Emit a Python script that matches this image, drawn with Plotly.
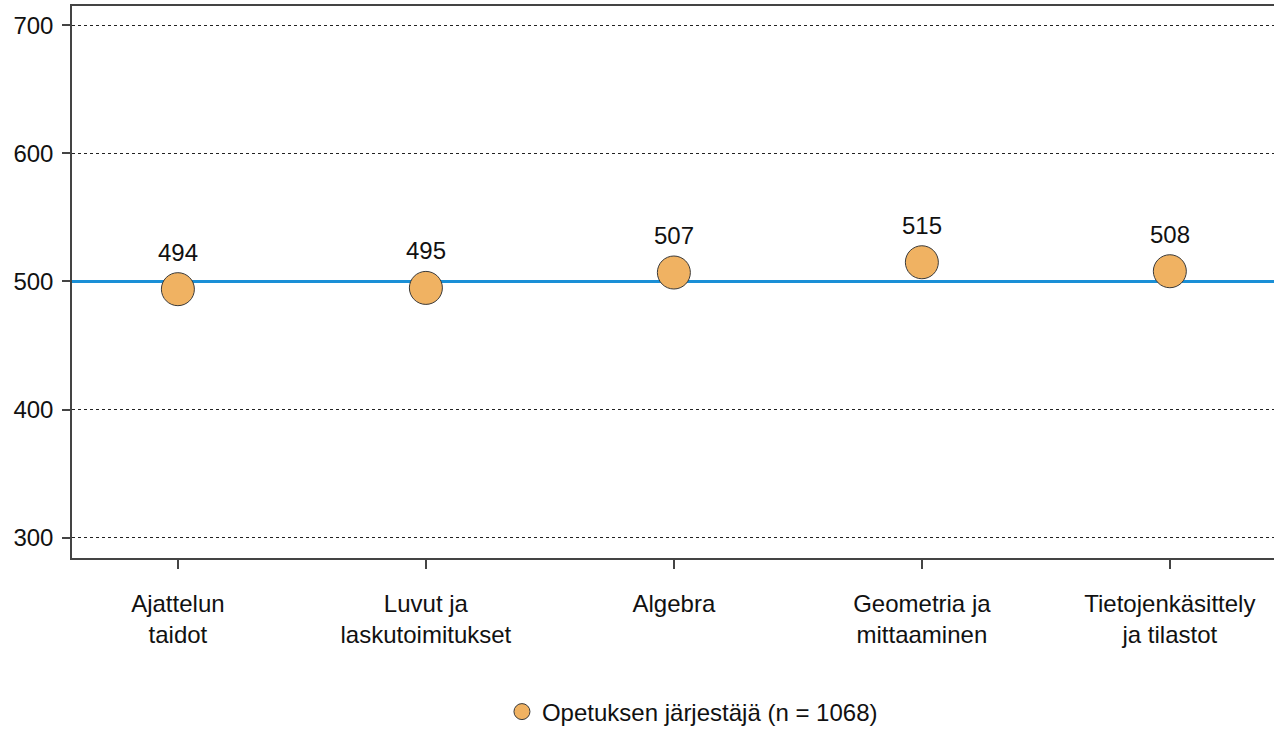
import plotly.graph_objects as go

categories = ["Ajattelun<br>taidot", "Luvut ja<br>laskutoimitukset", "Algebra",
              "Geometria ja<br>mittaaminen", "Tietojenkäsittely<br>ja tilastot"]
values = [494, 495, 507, 515, 508]
reference_value = 500
series_name = "Opetuksen järjestäjä (n = 1068)"
y_ticks = [300, 400, 500, 600, 700]

x_idx = list(range(len(categories)))
FONT = "Liberation Sans, Arial, sans-serif"
FS = 24

fig = go.Figure()

# reference line
fig.add_trace(go.Scatter(
    x=[-0.5, len(categories) - 0.5], y=[reference_value, reference_value],
    mode="lines", line=dict(color="#1A8FD6", width=3),
    showlegend=False, hoverinfo="skip"))

fig.add_trace(go.Scatter(
    x=x_idx, y=values, mode="markers", name=series_name,
    marker=dict(size=33, color="#F0B262", line=dict(color="#3A3A3A", width=1)),
))

for xi, v in zip(x_idx, values):
    fig.add_annotation(x=xi, y=v, text=str(v), showarrow=False,
                       yanchor="middle", yshift=37,
                       font=dict(family=FONT, size=FS, color="#111"))

fig.update_layout(
    width=1274, height=731,
    margin=dict(l=72, r=0, t=6, b=173, autoexpand=False),
    plot_bgcolor="white", paper_bgcolor="white",
    font=dict(family=FONT, size=FS, color="#111"),
    showlegend=True,
    legend=dict(orientation="h", xref="container", yref="container",
                x=0.394, xanchor="left", y=0.026, yanchor="middle",
                font=dict(family=FONT, size=FS, color="#111"),
                itemsizing="trace"),
)

fig.update_xaxes(
    range=[-0.427, 4.42], tickvals=x_idx, ticktext=categories,
    showgrid=False, zeroline=False, automargin=False,
    showline=True, linecolor="#444", linewidth=1.5, mirror=True,
    ticks="outside", ticklen=9, tickcolor="#444", tickwidth=1.5,
    ticklabelstandoff=14,
    tickfont=dict(family=FONT, size=FS, color="#111"),
)
fig.update_yaxes(
    range=[284.3, 714.9], tickvals=y_ticks,
    showgrid=True, gridcolor="#222", griddash="dot", gridwidth=1,
    zeroline=False, automargin=False,
    showline=True, linecolor="#444", linewidth=1.5,
    ticks="outside", ticklen=8, tickcolor="#444", tickwidth=1.5,
    ticklabelstandoff=4,
    tickfont=dict(family=FONT, size=FS, color="#111"),
)

fig.write_html("out.html", config={"displayModeBar": False},
               post_script="document.body.style.margin='0';document.body.style.overflow='hidden';")
